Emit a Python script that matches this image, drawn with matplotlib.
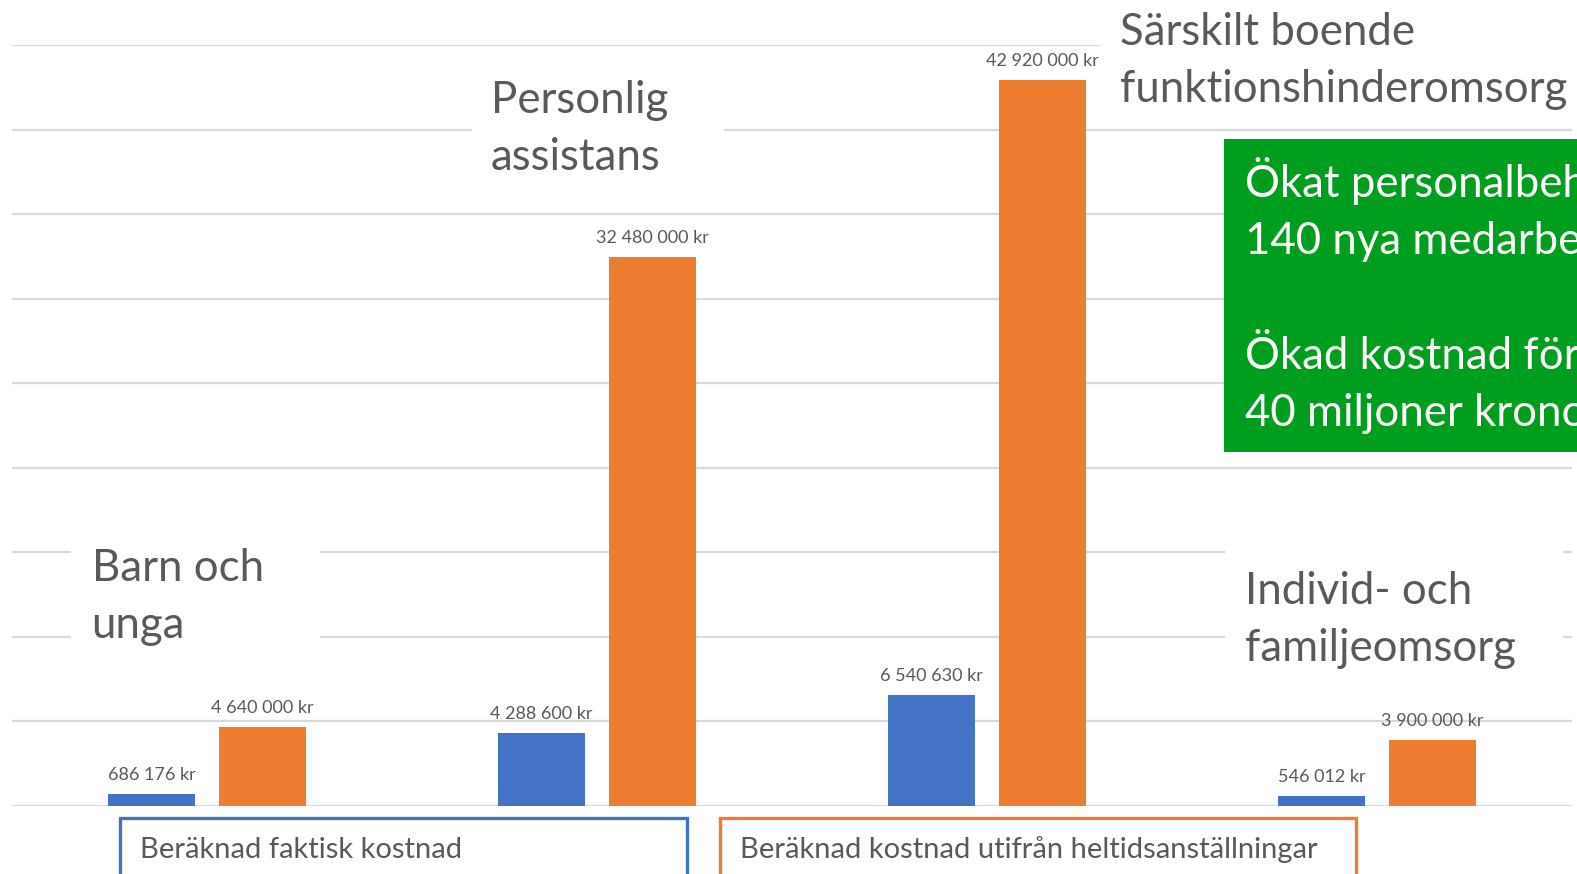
import matplotlib
matplotlib.use("Agg")
import matplotlib.pyplot as plt
from matplotlib.patches import Rectangle

# data
categories = ["Barn och\nunga", "Personlig\nassistans", "Särskilt boende\nfunktionshinderomsorg", "Individ- och\nfamiljeomsorg"]
series_names = ["Beräknad faktisk kostnad", "Beräknad kostnad utifrån heltidsanställningar"]
faktisk = [686176, 4288600, 6540630, 546012]
heltid = [4640000, 32480000, 42920000, 3900000]
info_lines = ["Ökat personalbehov:", "140 nya medarbetare", "", "Ökad kostnad för", "40 miljoner kronor"]

BLUE, ORANGE, GREEN, TXT, GRID = "#4472C4", "#ED7D31", "#009E1F", "#595959", "#D9D9D9"
plt.rcParams['font.family'] = ['Lato', 'DejaVu Sans']

W, H = 1577, 874
def fx(x): return x / W
def fy(y): return 1 - y / H

fig = plt.figure(figsize=(W/100, H/100), dpi=100)
ax = fig.add_axes([fx(12), fy(805.6), 1560/W, (805.6-45.3)/H])

x = range(len(categories))
bw, off = 0.224, 0.1425
b1 = ax.bar([i - off for i in x], faktisk, bw, color=BLUE, zorder=3)
b2 = ax.bar([i + off for i in x], heltid, bw, color=ORANGE, zorder=3)
fmt = lambda v: f"{v:,}".replace(",", " ") + " kr"
for bars, vals in ((b1, faktisk), (b2, heltid)):
    for r, v in zip(bars, vals):
        ax.annotate(fmt(v), (r.get_x() + r.get_width()/2, v), xytext=(0, 8), textcoords="offset points",
                    ha="center", va="bottom", fontsize=13, color=TXT, zorder=4)

ax.set_xlim(-0.5, 3.5)
ax.set_ylim(0, 45e6)
ax.set_yticks([i*5e6 for i in range(10)])
ax.grid(axis="y", color=GRID, lw=1.6)
ax.set_axisbelow(True)
ax.tick_params(length=0, labelleft=False, labelbottom=False)
for s in ax.spines.values(): s.set_visible(False)

# category labels with white backing covering the gridlines
cat_pos = [(91.5, 581, 71, 320, 530, 650), (491, 113, 472, 724, 60, 190),
           (1120, 45, 1101, 1577, 0, 115), (1245, 604, 1225, 1563, 540, 680)]
for lab, (tx, ty, x0, x1, y0, y1) in zip(categories, cat_pos):
    fig.patches.append(Rectangle((fx(x0), fy(y1)), (x1-x0)/W, (y1-y0)/H, transform=fig.transFigure,
                                 facecolor="white", edgecolor="none", zorder=1))
    for k, line in enumerate(lab.split("\n")):
        fig.text(fx(tx), fy(ty + 57*k), line, fontsize=31.5, color=TXT, ha="left", va="baseline", zorder=2)

# green info box (runs off the right edge as in the slide)
fig.patches.append(Rectangle((fx(1224), fy(452)), 400/W, (452-139)/H, transform=fig.transFigure,
                             facecolor=GREEN, edgecolor="none", zorder=1))
for k, line in enumerate(info_lines):
    if line:
        fig.text(fx(1245), fy(197 + 57.3*k), line, fontsize=31.5, color="white", ha="left", va="baseline", zorder=2)

# legend boxes
for name, col, x0, x1 in ((series_names[0], BLUE, 120, 687), (series_names[1], ORANGE, 720, 1356)):
    fig.patches.append(Rectangle((fx(x0), fy(900)), (x1-x0)/W, (900-818)/H, transform=fig.transFigure,
                                 facecolor="white", edgecolor=col, lw=2.4, zorder=1))
    fig.text(fx(x0 + 20), fy(858), name, fontsize=21, color=TXT, ha="left", va="baseline", zorder=2)

fig.savefig("out.png", dpi=100)
